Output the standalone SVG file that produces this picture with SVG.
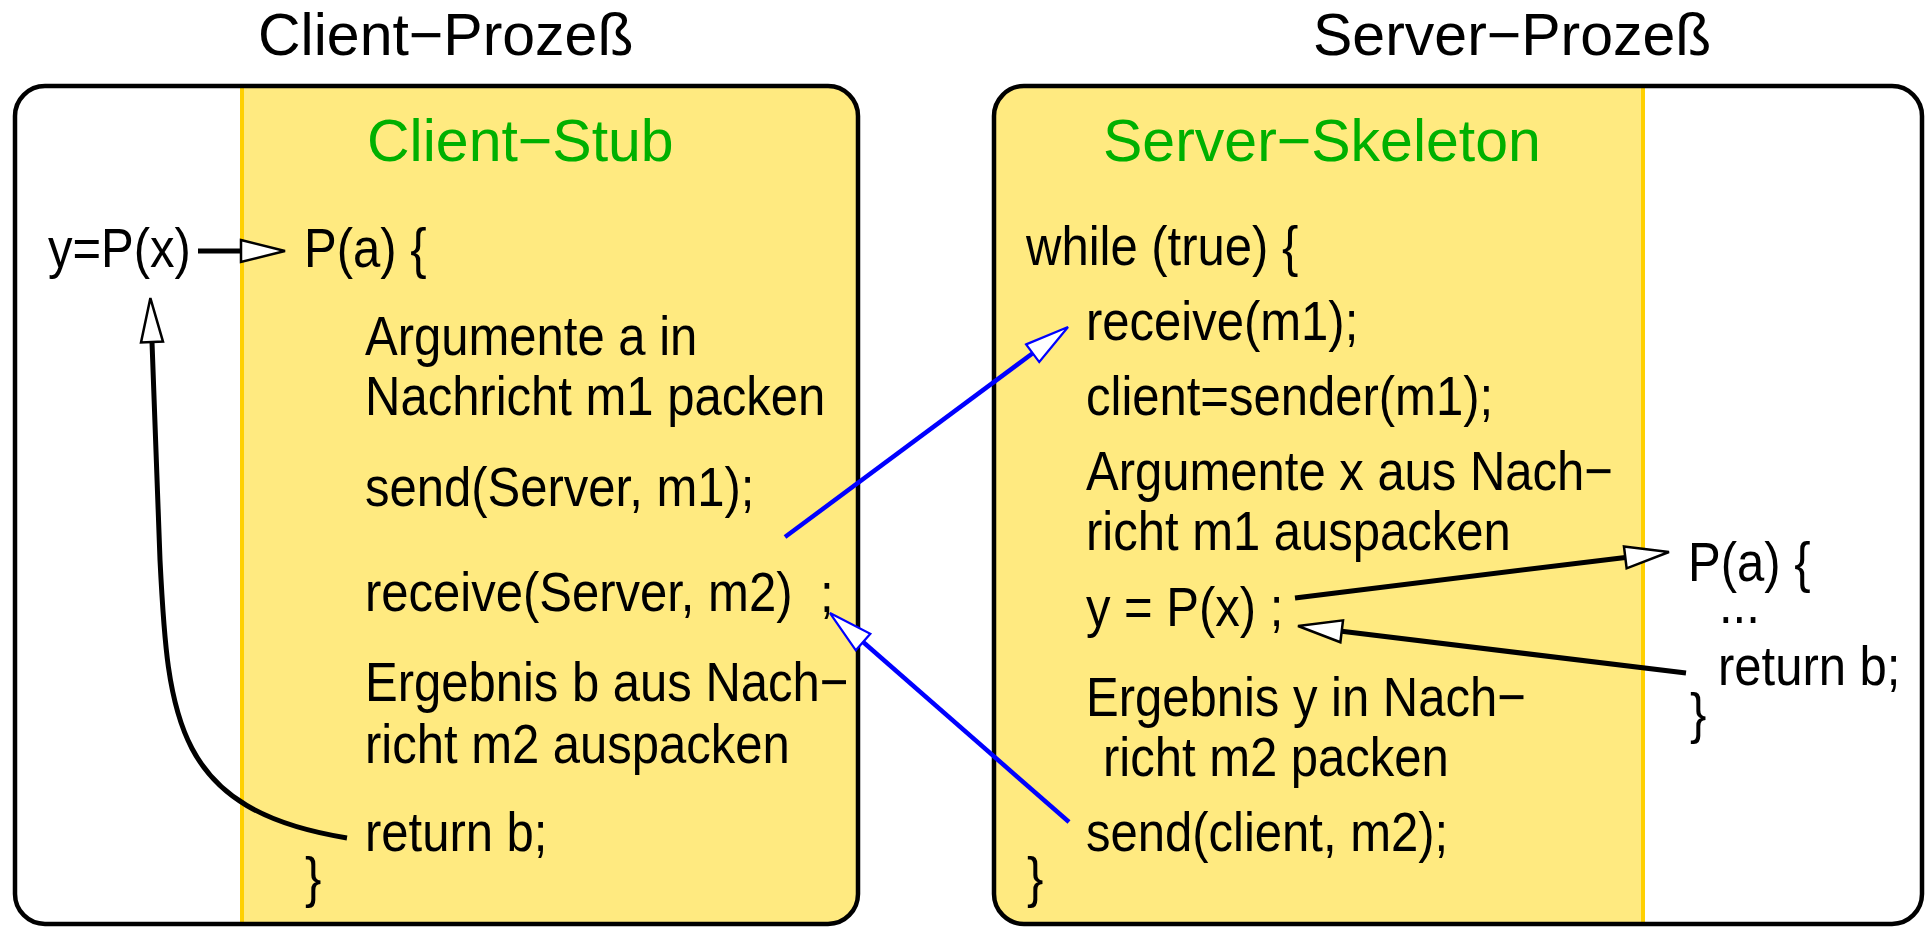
<svg xmlns="http://www.w3.org/2000/svg" width="1926" height="927" viewBox="0 0 1926 927">
<style>
  text { font-family: "Liberation Sans", Arial, Helvetica, sans-serif; }
  .title { font-size: 59px; fill: #000; }
  .green { font-size: 59px; fill: #00B000; }
  .body { font-size: 56px; fill: #000; }
  .box { fill: none; stroke: #000; stroke-width: 4.5; }
  .yellow { fill: #FFEA80; }
  .gold { stroke: #FFD000; stroke-width: 4; }
  .blk { fill: none; stroke: #000; stroke-width: 5; }
  .blu { fill: none; stroke: #0000FF; stroke-width: 4.5; }
</style>
<defs>
  <marker id="hb" markerUnits="userSpaceOnUse" markerWidth="50" markerHeight="30" refX="0" refY="11" orient="auto" overflow="visible">
    <path d="M0,0 L44,11 L0,22 Z" fill="#fff" stroke="#000" stroke-width="2.5" stroke-linejoin="miter"/>
  </marker>
  <marker id="hu" markerUnits="userSpaceOnUse" markerWidth="50" markerHeight="30" refX="0" refY="11" orient="auto" overflow="visible">
    <path d="M0,0 L44,11 L0,22 Z" fill="#fff" stroke="#0000FF" stroke-width="2.2" stroke-linejoin="miter"/>
  </marker>
  <clipPath id="clipL"><rect x="15" y="86" width="843" height="838" rx="30" ry="30"/></clipPath>
  <clipPath id="clipR"><rect x="994" y="86" width="928" height="838" rx="30" ry="30"/></clipPath>
</defs>

<rect width="1926" height="927" fill="#fff"/>

<g id="titles">
  <text class="title" x="258" y="55">Client−Prozeß</text>
  <text class="title" x="1313" y="55">Server−Prozeß</text>
</g>

<g id="client-process">
  <rect x="15" y="86" width="843" height="838" rx="30" ry="30" fill="#fff"/>
  <g clip-path="url(#clipL)">
    <rect class="yellow" x="242" y="80" width="630" height="850"/>
    <line class="gold" x1="242" y1="80" x2="242" y2="930"/>
  </g>
  <rect class="box" x="15" y="86" width="843" height="838" rx="30" ry="30"/>
  <text class="body" transform="translate(48,267) scale(0.875,1)">y=P(x)</text>
</g>

<g id="client-stub">
  <text class="green" x="367" y="161">Client−Stub</text>
  <text class="body" transform="translate(304,267) scale(0.875,1)">P(a) {</text>
  <text class="body" transform="translate(365,355) scale(0.875,1)">Argumente a in</text>
  <text class="body" transform="translate(365,415) scale(0.875,1)">Nachricht m1 packen</text>
  <text class="body" transform="translate(365,506) scale(0.875,1)">send(Server, m1);</text>
  <text class="body" transform="translate(365,611) scale(0.875,1)">receive(Server, m2)</text>
  <text class="body" transform="translate(820,612) scale(0.875,1)">;</text>
  <text class="body" transform="translate(365,701) scale(0.875,1)">Ergebnis b aus Nach−</text>
  <text class="body" transform="translate(365,763) scale(0.875,1)">richt m2 auspacken</text>
  <text class="body" transform="translate(365,851) scale(0.875,1)">return b;</text>
  <text class="body" transform="translate(305,896) scale(0.875,1)">}</text>
</g>

<g id="server-process">
  <rect x="994" y="86" width="928" height="838" rx="30" ry="30" fill="#fff"/>
  <g clip-path="url(#clipR)">
    <rect class="yellow" x="980" y="80" width="663" height="850"/>
    <line class="gold" x1="1643" y1="80" x2="1643" y2="930"/>
  </g>
  <rect class="box" x="994" y="86" width="928" height="838" rx="30" ry="30"/>
  <text class="body" transform="translate(1688,581) scale(0.875,1)">P(a) {</text>
  <text class="body" transform="translate(1719,623) scale(0.875,1)">...</text>
  <text class="body" transform="translate(1718,685) scale(0.875,1)">return b;</text>
  <text class="body" transform="translate(1690,732) scale(0.875,1)">}</text>
</g>

<g id="server-skeleton">
  <text class="green" x="1103" y="161">Server−Skeleton</text>
  <text class="body" transform="translate(1026,265) scale(0.875,1)">while (true) {</text>
  <text class="body" transform="translate(1086,340) scale(0.875,1)">receive(m1);</text>
  <text class="body" transform="translate(1086,415) scale(0.875,1)">client=sender(m1);</text>
  <text class="body" transform="translate(1086,490) scale(0.875,1)">Argumente x aus Nach−</text>
  <text class="body" transform="translate(1086,550) scale(0.875,1)">richt m1 auspacken</text>
  <text class="body" transform="translate(1086,626) scale(0.875,1)">y = P(x) ;</text>
  <text class="body" transform="translate(1086,716) scale(0.875,1)">Ergebnis y in Nach−</text>
  <text class="body" transform="translate(1103,776) scale(0.875,1)">richt m2 packen</text>
  <text class="body" transform="translate(1086,851) scale(0.875,1)">send(client, m2);</text>
  <text class="body" transform="translate(1027,896) scale(0.875,1)">}</text>
</g>

<g id="connectors">
  <path class="blk" d="M198,251 L241,251" marker-end="url(#hb)"/>
  <path class="blk" d="M347,838 C175,810 168,720 160,560 L152,342" marker-end="url(#hb)"/>
  <path class="blu" d="M785,537 L1032.7,353.2" marker-end="url(#hu)"/>
  <path class="blu" d="M1069,822 L863.1,642" marker-end="url(#hu)"/>
  <path class="blk" d="M1295,598 L1625.3,557.4" marker-end="url(#hb)"/>
  <path class="blk" d="M1686,673 L1341.7,631.3" marker-end="url(#hb)"/>
</g>
</svg>
